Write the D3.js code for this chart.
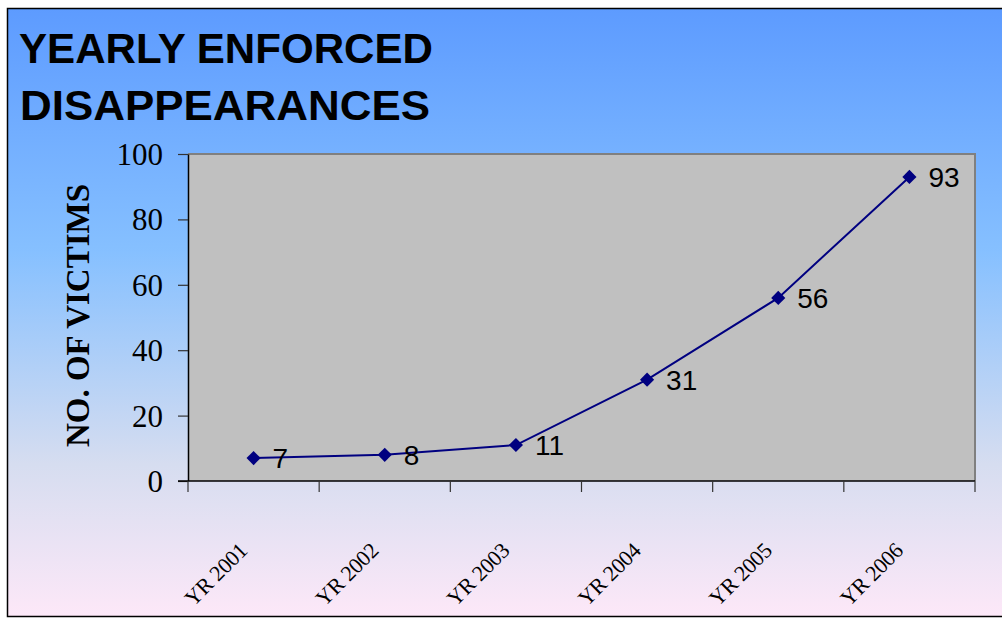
<!DOCTYPE html>
<html>
<head>
<meta charset="utf-8">
<script src="https://cdn.jsdelivr.net/npm/d3@7"></script>
<style>
  body { margin: 0; background: #ffffff; }
  svg { display: block; }
</style>
</head>
<body>
<script>
// chart data
var years = ["YR 2001", "YR 2002", "YR 2003", "YR 2004", "YR 2005", "YR 2006"];
var victims = [7, 8, 11, 31, 56, 93];
var yTicks = [0, 20, 40, 60, 80, 100];

var svgWidth = 1002;
var svgHeight = 618;

// plot area bounds
var plot = { left: 188, top: 154, right: 975, bottom: 481 };

var svg = d3.select("body")
  .append("svg")
  .attr("width", svgWidth)
  .attr("height", svgHeight);

// background gradient, blue at top fading to pink
var defs = svg.append("defs");
var grad = defs.append("linearGradient")
  .attr("id", "bg")
  .attr("x1", 0).attr("y1", 0)
  .attr("x2", 0).attr("y2", 1);
grad.append("stop").attr("offset", "0").attr("stop-color", "#5d9bff");
grad.append("stop").attr("offset", "0.4").attr("stop-color", "#86c0ff");
grad.append("stop").attr("offset", "0.75").attr("stop-color", "#d6ddf0");
grad.append("stop").attr("offset", "1").attr("stop-color", "#fde8f8");

svg.append("rect")
  .attr("x", 7.5)
  .attr("y", 8.5)
  .attr("width", 1010)
  .attr("height", 608)
  .attr("fill", "url(#bg)")
  .attr("stroke", "#000")
  .attr("stroke-width", 1.5);

// title
var title = svg.append("text")
  .attr("font-family", "'Liberation Sans', Arial, sans-serif")
  .attr("font-weight", "bold")
  .attr("font-size", 43)
  .attr("fill", "#000");
title.append("tspan").attr("x", 19).attr("y", 63)
  .attr("textLength", 414).attr("lengthAdjust", "spacingAndGlyphs")
  .text("YEARLY ENFORCED");
title.append("tspan").attr("x", 20).attr("y", 120)
  .attr("textLength", 410).attr("lengthAdjust", "spacingAndGlyphs")
  .text("DISAPPEARANCES");

// scales
var x = d3.scaleBand()
  .domain(years)
  .range([plot.left, plot.right])
  .padding(0);

var y = d3.scaleLinear()
  .domain([0, 100])
  .range([plot.bottom, plot.top]);

// grey plot area
svg.append("rect")
  .attr("x", plot.left)
  .attr("y", plot.top)
  .attr("width", plot.right - plot.left)
  .attr("height", plot.bottom - plot.top)
  .attr("fill", "#c0c0c0")
  .attr("stroke", "none");

// grey border on top and right
svg.append("path")
  .attr("d", `M${plot.left},${plot.top}H${plot.right}V${plot.bottom}`)
  .attr("fill", "none")
  .attr("stroke", "#808080")
  .attr("stroke-width", 2);

// y axis
var leftAxis = d3.axisLeft(y)
  .tickValues(yTicks)
  .tickSize(10)
  .tickPadding(15)
  .tickSizeOuter(0);

var yAxisG = svg.append("g")
  .attr("transform", `translate(${plot.left}, 0)`)
  .call(leftAxis);
yAxisG.select(".domain").attr("stroke", "#000").attr("stroke-width", 1.5);
yAxisG.selectAll(".tick line").attr("stroke", "#333").attr("stroke-width", 1.2);
yAxisG.selectAll(".tick text")
  .attr("font-family", "'Liberation Serif', 'Times New Roman', serif")
  .attr("font-size", 31)
  .attr("fill", "#000")
  .attr("dy", "0.34em");

// x axis, ticks sit between categories
var xAxisG = svg.append("g")
  .attr("transform", `translate(0, ${plot.bottom})`);
xAxisG.append("line")
  .attr("x1", plot.left - 10)
  .attr("x2", plot.right)
  .attr("stroke", "#000")
  .attr("stroke-width", 1.5);
var tickXs = years.map(d => x(d)).concat([x(years[years.length - 1]) + x.bandwidth()]);
xAxisG.selectAll("line.tick")
  .data(tickXs)
  .enter()
  .append("line")
  .attr("class", "tick")
  .attr("x1", d => d)
  .attr("x2", d => d)
  .attr("y1", 0)
  .attr("y2", 11)
  .attr("stroke", "#333")
  .attr("stroke-width", 1.2);

// rotated category labels
svg.selectAll("text.cat")
  .data(years)
  .enter()
  .append("text")
  .attr("class", "cat")
  .attr("transform", d => `translate(${x(d) + x.bandwidth() / 2 - 5}, 552) rotate(-45)`)
  .attr("text-anchor", "end")
  .attr("font-family", "'Liberation Serif', 'Times New Roman', serif")
  .attr("font-size", 22)
  .attr("letter-spacing", -0.3)
  .attr("fill", "#000")
  .text(d => d);

// y axis title
svg.append("text")
  .attr("transform", `translate(89, ${(183 + 448) / 2}) rotate(-90)`)
  .attr("text-anchor", "middle")
  .attr("font-family", "'Liberation Serif', 'Times New Roman', serif")
  .attr("font-weight", "bold")
  .attr("font-size", 33)
  .attr("fill", "#000")
  .text("NO. OF VICTIMS");

// the line
var line = d3.line()
  .x((d, i) => x(years[i]) + x.bandwidth() / 2)
  .y(d => y(d));

svg.append("path")
  .datum(victims)
  .attr("d", line)
  .attr("fill", "none")
  .attr("stroke", "#000080")
  .attr("stroke-width", 2);

// diamond markers
var diamond = d3.symbol().type(d3.symbolSquare).size(100);
svg.selectAll("path.marker")
  .data(victims)
  .enter()
  .append("path")
  .attr("class", "marker")
  .attr("d", diamond)
  .attr("transform", (d, i) => `translate(${x(years[i]) + x.bandwidth() / 2}, ${y(d)}) rotate(45)`)
  .attr("fill", "#000080");

// value labels
svg.selectAll("text.val")
  .data(victims)
  .enter()
  .append("text")
  .attr("class", "val")
  .attr("x", (d, i) => x(years[i]) + x.bandwidth() / 2 + 19)
  .attr("y", d => y(d))
  .attr("dy", "0.36em")
  .attr("font-family", "'Liberation Sans', Arial, sans-serif")
  .attr("font-size", 28)
  .attr("fill", "#000")
  .text(d => d);
</script>
</body>
</html>
